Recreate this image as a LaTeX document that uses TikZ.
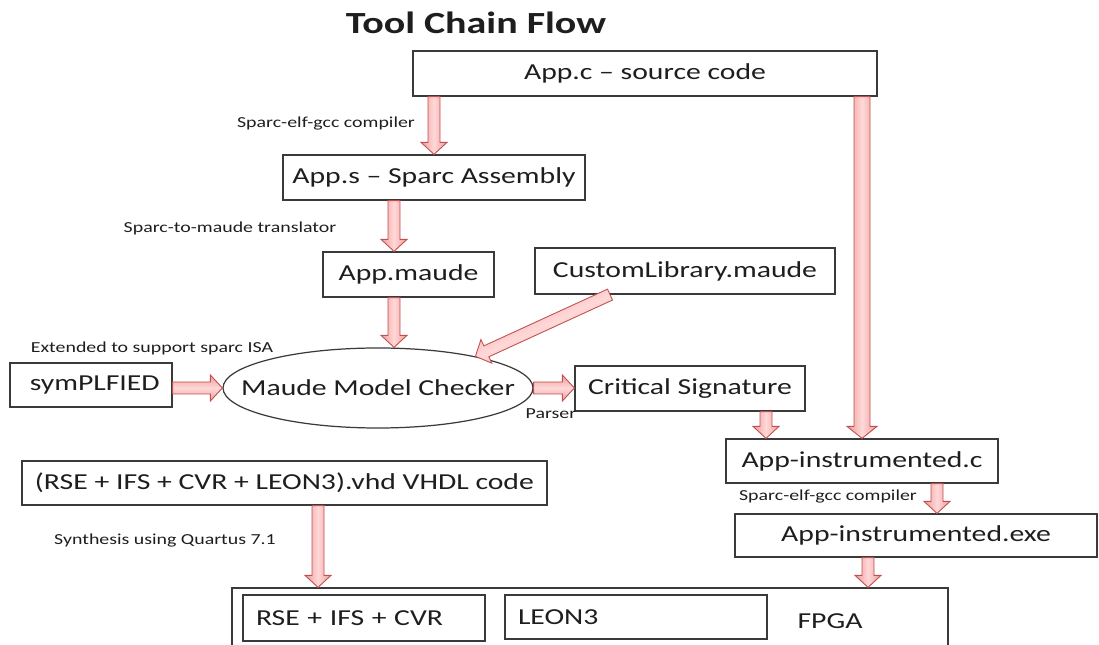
\documentclass[tikz,border=0pt]{standalone}
\usepackage{fontspec}
\setmainfont{Carlito}[FakeStretch=1.3]
\usetikzlibrary{shapes.geometric,calc}
\definecolor{arrowedge}{HTML}{EE9A9A}
\definecolor{arrowmid}{HTML}{FFD8D8}
\definecolor{arrowline}{HTML}{C0504D}
\definecolor{boxline}{HTML}{3A3A3A}
\definecolor{txt}{HTML}{1E1E1E}
\def\shaftw{0.12cm}\def\headw{0.26cm}
\tikzset{blk/.style={draw=arrowline, line width=0.5pt, left color=arrowedge, right color=arrowedge, middle color=arrowmid},
  blkh/.style={top color=arrowedge, bottom color=arrowedge, middle color=arrowmid},
  wide/.code={\def\shaftw{0.16cm}\def\headw{0.30cm}}}
\newcommand{\blockarrow}[3][]{%
  \coordinate (ba-s) at #2; \coordinate (ba-t) at #3;
  \coordinate (ba-h) at ($(ba-t)!0.24cm!(ba-s)$);
  \draw[blk,#1] ($(ba-s)!\shaftw!90:(ba-t)$) -- ($(ba-h)!\shaftw!-90:(ba-s)$) -- ($(ba-h)!\headw!-90:(ba-s)$) -- (ba-t)
    -- ($(ba-h)!\headw!90:(ba-s)$) -- ($(ba-h)!\shaftw!90:(ba-s)$) -- ($(ba-s)!\shaftw!-90:(ba-t)$) -- cycle;}
\begin{document}
\begin{tikzpicture}[every node/.style={text=txt},
    box/.style={draw=boxline, line width=0.7pt, minimum height=0.9cm, inner sep=0pt, font=\fontsize{13}{15}\selectfont},
    lbl/.style={font=\fontsize{8.7}{10}\selectfont}]
  \useasboundingbox (0,0) rectangle (21.98,12.88);
  \node[font=\fontsize{17.5}{20}\selectfont\bfseries] (title) at (9.52,12.42) {Tool Chain Flow};
  \node[box, minimum width=9.28cm] (appc) at (12.90,11.41) {App.c -- source code};
  \node[box, minimum width=6.04cm] (apps) at (8.68,9.33) {App.s -- Sparc Assembly};
  \node[box, minimum width=3.42cm] (appm) at (8.17,7.39) {App.maude};
  \node[box, minimum width=6.00cm, minimum height=0.92cm] (custom) at (13.70,7.46) {CustomLibrary.maude};
  \node[box, minimum width=3.24cm, minimum height=0.88cm] (sym) at (1.82,5.18) {\hspace{0.15cm}symPLFIED};
  \node[box, ellipse, inner xsep=-0.6cm, minimum width=6.2cm, minimum height=1.6cm] (chk) at (7.56,5.12) {Maude Model Checker};
  \node[box, minimum width=4.60cm] (crit) at (13.80,5.11) {Critical Signature};
  \node[box, minimum width=5.44cm, minimum height=0.88cm] (appic) at (17.24,3.66) {App-instrumented.c};
  \node[box, minimum width=7.24cm, minimum height=0.86cm] (appexe) at (18.32,2.17) {App-instrumented.exe};
  \node[box, minimum width=10.50cm, minimum height=0.88cm] (vhdl) at (5.69,3.22) {(RSE + IFS + CVR + LEON3).vhd VHDL code};
  \node[box, minimum width=14.32cm, minimum height=1.24cm] (fpga) at (11.80,0.50) {};
  \node[box, text width=4.32cm, inner xsep=0.26cm, align=left, minimum height=0.92cm] (rse) at (7.28,0.52) {RSE + IFS + CVR};
  \node[box, text width=4.72cm, inner xsep=0.26cm, align=left, minimum height=0.88cm] (leon) at (12.72,0.54) {LEON3};
  \node[font=\fontsize{13}{15}\selectfont] (fpgatxt) at (16.60,0.46) {FPGA};
  % tool labels
  \node[lbl] (l1) at (6.52,10.40) {Sparc-elf-gcc compiler};
  \node[lbl] (l2) at (4.60,8.32) {Sparc-to-maude translator};
  \node[lbl] (l3) at (3.04,5.92) {Extended to support sparc ISA};
  \node[lbl] (l4) at (11.02,4.60) {Parser};
  \node[lbl] (l5) at (16.56,2.94) {Sparc-elf-gcc compiler};
  \node[lbl] (l6) at (3.30,2.06) {Synthesis using Quartus 7.1};
  % block arrows
  \coordinate (m1) at ([xshift=-0.29cm]appm.north);
  \coordinate (c1) at ([xshift=-1.5cm]custom.south);
  \coordinate (s1) at ([xshift=1.52cm]crit.south);
  \coordinate (e1) at ([xshift=1.50cm]appic.south);
  \coordinate (x1) at ([xshift=-0.96cm]appexe.south);
  \coordinate (v1) at ([xshift=0.67cm]vhdl.south);
  \blockarrow{(apps.north |- appc.south)}{(apps.north)}
  \blockarrow{(m1 |- apps.south)}{(m1)}
  \blockarrow{(m1 |- appm.south)}{(m1 |- chk.north)}
  \blockarrow[shading angle=25]{(c1)}{(chk.18)}
  \blockarrow[blkh]{(sym.east |- chk.west)}{(chk.west)}
  \blockarrow[blkh]{(chk.east)}{(crit.west |- chk.east)}
  \blockarrow{(s1)}{(s1 |- appic.north)}
  \blockarrow[wide]{(appic.north |- appc.south)}{(appic.north)}
  \blockarrow{(e1)}{(e1 |- appexe.north)}
  \blockarrow{(x1)}{(x1 |- fpga.north)}
  \blockarrow{(v1)}{(v1 |- fpga.north)}
\end{tikzpicture}
\end{document}
